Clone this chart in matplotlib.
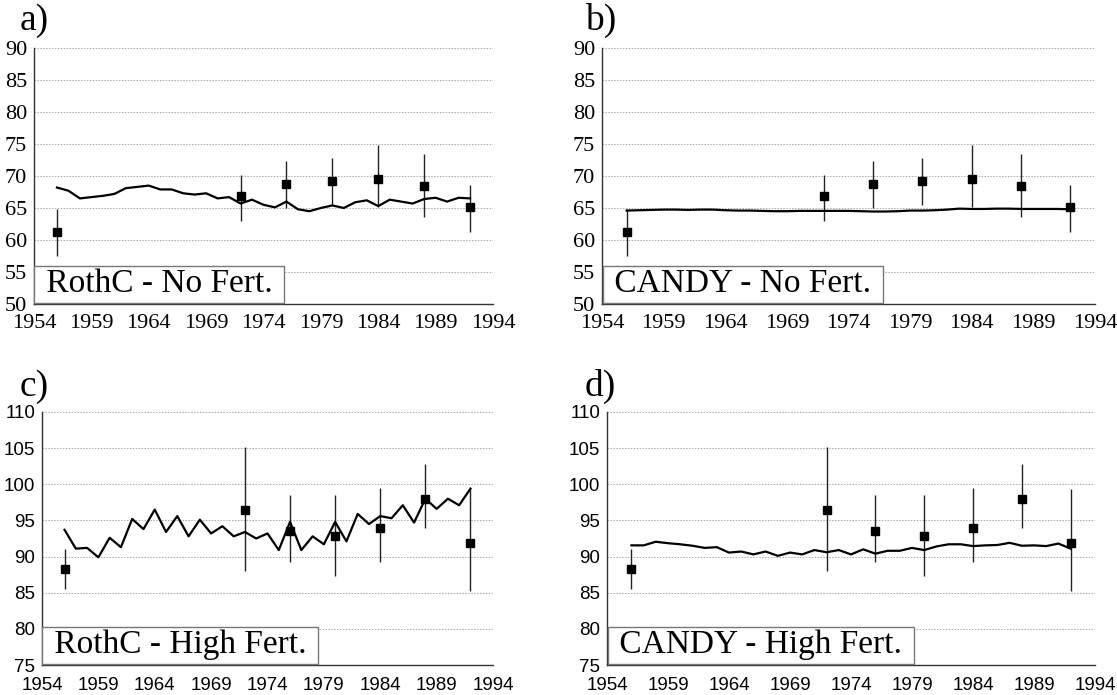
import numpy as np
import matplotlib.pyplot as plt

# years of the model runs
years = np.arange(1956, 1993)

rothc_nofert = [68.2, 67.7, 66.5, 66.7, 66.9, 67.2, 68.1, 68.3, 68.5, 67.9,
                67.9, 67.3, 67.1, 67.3, 66.5, 66.7, 65.7, 66.3, 65.5, 65.1,
                66.0, 64.8, 64.5, 65.0, 65.4, 65.0, 65.9, 66.2, 65.3, 66.3,
                66.0, 65.7, 66.4, 66.6, 66.0, 66.6, 66.5]
candy_nofert = [64.6, 64.65, 64.7, 64.75, 64.75, 64.7, 64.75, 64.75, 64.65, 64.6,
                64.6, 64.55, 64.5, 64.5, 64.55, 64.55, 64.55, 64.55, 64.55, 64.5,
                64.45, 64.45, 64.5, 64.6, 64.6, 64.65, 64.75, 64.9, 64.85, 64.85,
                64.9, 64.9, 64.85, 64.85, 64.85, 64.85, 64.8]
rothc_high = [93.7, 91.1, 91.2, 89.9, 92.6, 91.3, 95.2, 93.8, 96.5, 93.4,
              95.6, 92.8, 95.1, 93.2, 94.2, 92.8, 93.4, 92.5, 93.2, 90.9,
              94.8, 90.9, 92.8, 91.7, 94.8, 92.1, 95.9, 94.5, 95.6, 95.3,
              97.1, 94.7, 98.0, 96.6, 98.0, 97.1, 99.4]
candy_high = [91.55, 91.55, 92.05, 91.85, 91.7, 91.5, 91.2, 91.3, 90.55, 90.7,
              90.3, 90.7, 90.1, 90.55, 90.3, 90.9, 90.6, 90.9, 90.3, 91.0,
              90.4, 90.8, 90.8, 91.2, 90.9, 91.4, 91.7, 91.7, 91.45, 91.55,
              91.6, 91.9, 91.5, 91.55, 91.45, 91.8, 91.1]

# measured values with ranges
obs_years = [1956, 1972, 1976, 1980, 1984, 1988, 1992]
obs_nofert = [61.2, 66.8, 68.8, 69.2, 69.6, 68.4, 65.1]
obs_nofert_lo = [57.5, 63.0, 65.0, 65.5, 65.2, 63.6, 61.3]
obs_nofert_hi = [64.8, 70.2, 72.3, 72.8, 74.9, 73.5, 68.6]
obs_high = [88.3, 96.4, 93.5, 92.8, 93.9, 98.0, 91.9]
obs_high_lo = [85.5, 88.0, 89.3, 87.3, 89.3, 93.9, 85.2]
obs_high_hi = [91.0, 105.1, 98.5, 98.5, 99.5, 102.8, 99.4]

panel_letters = ['a)', 'b)', 'c)', 'd)']
panel_names = ['RothC - No Fert.', 'CANDY - No Fert.',
               'RothC - High Fert.', 'CANDY - High Fert.']

W, H = 1117, 695
fig = plt.figure(figsize=(W / 100, H / 100), dpi=100)

def px_axes(left, right, top, bottom):
    return fig.add_axes([left / W, 1 - bottom / H, (right - left) / W, (bottom - top) / H])

serif = 'Liberation Serif'
sans = 'Liberation Sans'

setup = [
    # axes box, model, obs, obs lo, obs hi, ylim, tick font
    ((34, 493, 48, 304), rothc_nofert, obs_nofert, obs_nofert_lo, obs_nofert_hi, (50, 90), serif),
    ((602, 1095, 48, 304), candy_nofert, obs_nofert, obs_nofert_lo, obs_nofert_hi, (50, 90), serif),
    ((42, 493, 412, 665), rothc_high, obs_high, obs_high_lo, obs_high_hi, (75, 110), sans),
    ((607, 1095, 412, 665), candy_high, obs_high, obs_high_lo, obs_high_hi, (75, 110), sans),
]
letter_pos = [(20, 30), (585, 30), (20, 396), (585, 396)]

for i, (box, model, obs, lo, hi, ylim, tfont) in enumerate(setup):
    ax = px_axes(*box)
    ax.set_xlim(1954, 1994)
    ax.set_ylim(*ylim)
    ax.set_xticks(np.arange(1954, 1995, 5))
    ax.set_yticks(np.arange(ylim[0], ylim[1] + 1, 5))
    ax.grid(axis='y', linestyle=(0, (1.5, 1.5)), color='#aaaaaa', linewidth=0.7)
    ax.set_axisbelow(True)
    for s in ['top', 'right']:
        ax.spines[s].set_visible(False)
    for s in ['left', 'bottom']:
        ax.spines[s].set_color('#333333')
        ax.spines[s].set_linewidth(1.0)
    if tfont == serif:
        ax.tick_params(axis='y', length=0, pad=5, labelsize=16)
        ax.tick_params(axis='x', length=0, pad=7, labelsize=16)
    else:
        ax.tick_params(axis='y', length=0, pad=5, labelsize=13.5)
        ax.tick_params(axis='x', length=0, pad=9, labelsize=13.5)
    for lab in ax.get_xticklabels() + ax.get_yticklabels():
        lab.set_fontfamily(tfont)

    # ranges of the measurements
    ax.vlines(obs_years, lo, hi, color='#222222', linewidth=1.0, zorder=2)
    ax.plot(years, model, color='black', linewidth=1.6, zorder=3)
    ax.plot(obs_years, obs, 's', color='black', markersize=6, zorder=4)

    ax.text(0.008, 0.018, ' ' + panel_names[i] + ' ', transform=ax.transAxes,
            fontsize=24, family=serif, ha='left', va='bottom', zorder=5,
            bbox=dict(boxstyle='square,pad=0.1', fc='white', ec='#777777', lw=1.0))

    fig.text(letter_pos[i][0] / W, 1 - letter_pos[i][1] / H, panel_letters[i],
             fontsize=27, family=serif, ha='left', va='baseline')

fig.savefig('out.png', dpi=100)
